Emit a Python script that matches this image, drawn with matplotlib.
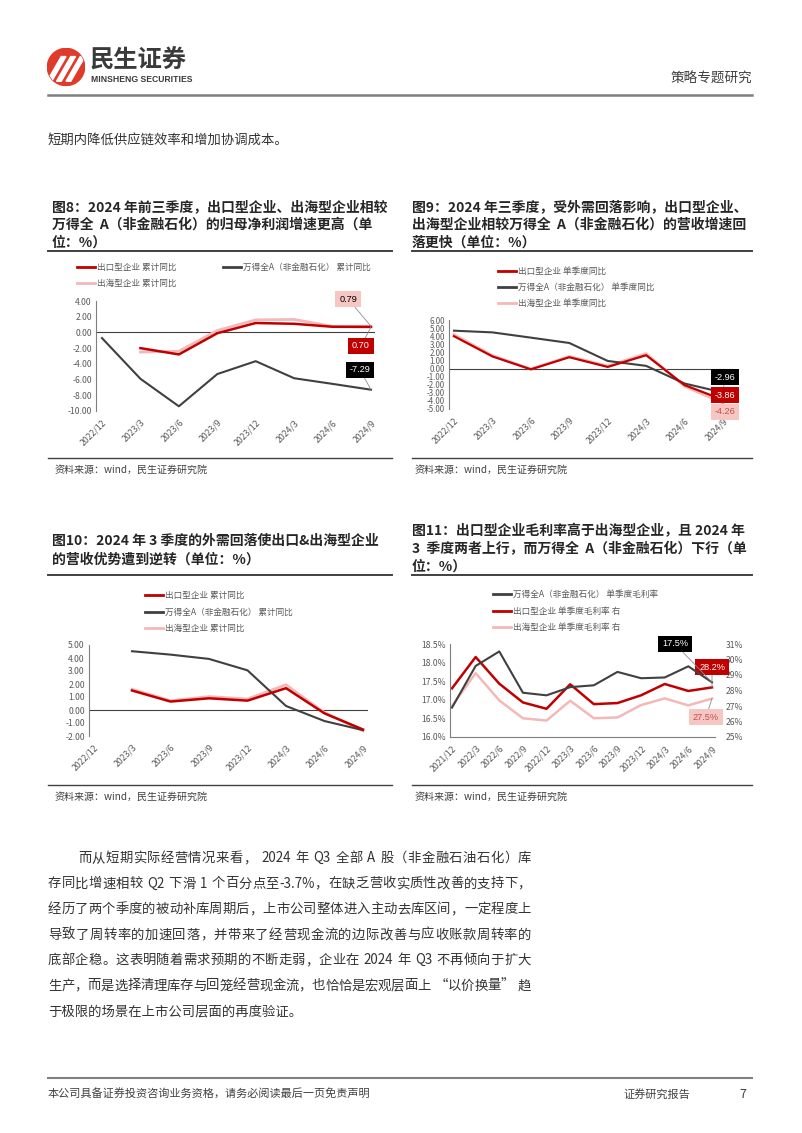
import re
import numpy as np
import matplotlib.pyplot as plt
from matplotlib.lines import Line2D
from matplotlib.patches import Circle, Polygon

plt.rcParams['font.family'] = ['Noto Sans CJK SC', 'DejaVu Sans']

W, H = 802, 1133
nan = np.nan

# 图8 归母净利润 累计同比
q8 = ['2022/12', '2023/3', '2023/6', '2023/9', '2023/12', '2024/3', '2024/6', '2024/9']
np_export = [nan, -2.0, -2.8, -0.1, 1.2, 1.1, 0.72, 0.70]
np_overseas = [nan, -2.5, -2.4, 0.25, 1.6, 1.65, 0.77, 0.79]
np_wind = [-0.72, -5.9, -9.4, -5.3, -3.66, -5.83, -6.55, -7.29]

# 图9 营收 单季度同比
q9 = q8
rq_export = [4.0, 1.5, -0.1, 1.4, 0.2, 1.65, -2.05, -3.86]
rq_overseas = [4.2, 1.6, -0.05, 1.5, 0.3, 1.85, -2.2, -4.26]
rq_wind = [4.68, 4.47, 3.82, 3.16, 0.94, 0.33, -1.85, -2.96]

# 图10 营收 累计同比
q10 = q8
rc_export = [nan, 1.5, 0.65, 0.9, 0.72, 1.68, -0.26, -1.5]
rc_overseas = [nan, 1.6, 0.72, 1.03, 0.85, 1.94, -0.2, -1.6]
rc_wind = [nan, 4.52, 4.26, 3.93, 3.05, 0.31, -0.85, -1.55]

# 图11 单季度毛利率
q11 = ['2021/12', '2022/3', '2022/6', '2022/9', '2022/12', '2023/3', '2023/6',
       '2023/9', '2023/12', '2024/3', '2024/6', '2024/9']
gm_wind = [16.79, 17.91, 18.30, 17.19, 17.12, 17.34, 17.39, 17.75, 17.58, 17.60, 17.90, 17.47]
gm_export = [28.14, 30.16, 28.44, 27.23, 26.82, 28.40, 27.12, 27.19, 27.69, 28.42, 27.97, 28.2]
gm_overseas = [27.0, 29.12, 27.36, 26.21, 26.06, 27.34, 26.21, 26.26, 27.06, 27.49, 27.04, 27.48]

body = [
    '而从短期实际经营情况来看， 2024 年 Q3 全部 A 股（非金融石油石化）库',
    '存同比增速相较 Q2 下滑 1 个百分点至-3.7%，在缺乏营收实质性改善的支持下，',
    '经历了两个季度的被动补库周期后，上市公司整体进入主动去库区间，一定程度上',
    '导致了周转率的加速回落，并带来了经营现金流的边际改善与应收账款周转率的',
    '底部企稳。这表明随着需求预期的不断走弱，企业在 2024 年 Q3 不再倾向于扩大',
    '生产，而是选择清理库存与回笼经营现金流，也恰恰是宏观层面上 “以价换量” 趋',
    '于极限的场景在上市公司层面的再度验证。',
]

RED = '#C00000'
PINK = '#F4B8B8'
DARK = '#404040'
TXT = '#595959'

fig = plt.figure(figsize=(W / 100, H / 100), dpi=100)
renderer = fig.canvas.get_renderer()


def rect(x0, y0, x1, y1):
    return [x0 / W, 1 - y1 / H, (x1 - x0) / W, (y1 - y0) / H]


def ftext(x, y, s, **kw):
    kw.setdefault('va', 'center')
    return fig.text(x / W, 1 - y / H, s, **kw)


def hline(x0, x1, y, color=DARK, lw=1.0):
    fig.add_artist(Line2D([x0 / W, x1 / W], [1 - y / H, 1 - y / H],
                          color=color, lw=lw, transform=fig.transFigure))


def justify(x0, x1, y, s, size, color):
    # 两端对齐
    toks = re.findall(r'[A-Za-z0-9.%\-]+| |.', s)
    arts = [ftext(0, y, t, fontsize=size, color=color) for t in toks]
    ws = [a.get_window_extent(renderer).width if t.strip() else size * 100 / 72 * 0.3
          for a, t in zip(arts, toks)]
    extra = (x1 - x0 - sum(ws)) / (len(toks) - 1)
    x = x0
    for a, w in zip(arts, ws):
        a.set_x(x / W)
        x += w + extra


def legend_row(x, y, color, label, lw=2.0):
    hline(x, x + 18, y, color=color, lw=lw)
    ftext(x + 20, y, label, fontsize=6.2, color=TXT)


def setup(ax, cats, ylim, yticks, fmt, xlim, zero=True):
    ax.set_xlim(*xlim)
    ax.set_ylim(*ylim)
    ax.set_yticks(yticks)
    ax.set_yticklabels([fmt.format(v) for v in yticks], fontsize=6.2, color=TXT)
    ax.set_xticks(range(len(cats)))
    ax.set_xticklabels(cats, rotation=45, ha='right', va='top',
                       rotation_mode='anchor', fontsize=6.3, color=TXT)
    for s in ['top', 'right', 'bottom']:
        ax.spines[s].set_visible(False)
    ax.spines['left'].set_color('#7f7f7f')
    ax.spines['left'].set_linewidth(0.8)
    ax.tick_params(length=0, pad=3)
    ax.tick_params(axis='x', pad=5)
    if zero:
        ax.axhline(0, color=DARK, lw=0.8, zorder=1)
    ax.patch.set_alpha(0)


def box(ax, txt, xy, pos, fc, tc):
    ax.annotate(txt, xy=xy, xytext=(pos[0], H - pos[1]), textcoords='figure pixels',
                ha='center', va='center', fontsize=6.6, color=tc, family='Liberation Sans',
                bbox=dict(boxstyle='square,pad=0.4', fc=fc, ec='none'),
                arrowprops=dict(arrowstyle='-', color='#8c8c8c', lw=0.6,
                                shrinkA=0, shrinkB=0), zorder=6)


# ---------- 页眉 ----------
lax = fig.add_axes(rect(47, 48, 85, 86))
lax.set_xlim(-1, 1)
lax.set_ylim(-1, 1)
lax.axis('off')
circ = Circle((0, 0), 0.98, color='#E03A2A')
lax.add_patch(circ)
for dx in [-0.55, -0.05, 0.45]:
    p = Polygon([[dx - 0.45, -0.75], [dx - 0.2, -0.75], [dx + 0.55, 0.55], [dx + 0.3, 0.55]],
                color='white')
    lax.add_patch(p)
    p.set_clip_path(circ)

ftext(90, 61, '民生证券', fontsize=17.5, fontweight='bold', color='#3a3a3a')
ftext(91, 80, 'MINSHENG SECURITIES', fontsize=6.2, fontweight='bold', color='#3a3a3a',
      family='Liberation Sans')
ftext(752, 79, '策略专题研究', fontsize=9.8, color='#404040', ha='right')
hline(48, 752, 95, color='#808080', lw=1.8)

ftext(48, 140, '短期内降低供应链效率和增加协调成本。', fontsize=9.6, color='#333333')

# ---------- 图表标题 ----------
tkw = dict(fontsize=10, fontweight='bold', color='#262626')
ftext(52, 207, '图8：2024 年前三季度，出口型企业、出海型企业相较', **tkw)
ftext(52, 225, '万得全  A（非金融石化）的归母净利润增速更高（单', **tkw)
ftext(52, 243, '位：%）', **tkw)
ftext(412, 207, '图9：2024 年三季度，受外需回落影响，出口型企业、', **tkw)
ftext(412, 225, '出海型企业相较万得全  A（非金融石化）的营收增速回', **tkw)
ftext(412, 243, '落更快（单位：%）', **tkw)
ftext(52, 541, '图10：2024 年 3 季度的外需回落使出口&出海型企业', **tkw)
ftext(52, 560, '的营收优势遭到逆转（单位：%）', **tkw)
ftext(412, 531, '图11：出口型企业毛利率高于出海型企业，且 2024 年', **tkw)
ftext(412, 549, '3  季度两者上行，而万得全  A（非金融石化）下行（单', **tkw)
ftext(412, 567, '位：%）', **tkw)
for y in (251, 575):
    hline(48, 392, y, lw=1.4)
    hline(412, 752, y, lw=1.4)
for y in (458, 785):
    hline(48, 392, y, lw=1.0)
    hline(412, 752, y, lw=1.0)
    ftext(55, y + 12, '资料来源：wind，民生证券研究院', fontsize=7.2, color='#404040')
    ftext(415, y + 12, '资料来源：wind，民生证券研究院', fontsize=7.2, color='#404040')

# ---------- 图8 ----------
ax8 = fig.add_axes(rect(96, 301, 375, 411))
x8 = np.arange(len(q8))
ax8.plot(x8, np_overseas, color=PINK, lw=2.0, zorder=3)
ax8.plot(x8, np_export, color=RED, lw=1.8, zorder=4)
ax8.plot(x8, np_wind, color=DARK, lw=1.5, zorder=3)
setup(ax8, q8, (-10, 4), np.arange(-10, 5, 2), '{:.2f}', (-0.156, 7.104))
box(ax8, f'{np_overseas[-1]:.2f}', (7, np_overseas[-1]), (348, 299), '#F6C6C3', '#000000')
box(ax8, f'{np_export[-1]:.2f}', (7, np_export[-1]), (361, 346), RED, 'white')
box(ax8, f'{np_wind[-1]:.2f}', (7, np_wind[-1]), (360, 370), '#000000', 'white')
legend_row(77, 267, RED, '出口型企业 累计同比')
legend_row(223, 267, DARK, '万得全A（非金融石化） 累计同比')
legend_row(77, 283, PINK, '出海型企业 累计同比')

# ---------- 图9 ----------
ax9 = fig.add_axes(rect(449, 320, 733, 409))
x9 = np.arange(len(q9))
ax9.plot(x9, rq_overseas, color=PINK, lw=2.0, zorder=3)
ax9.plot(x9, rq_export, color=RED, lw=1.6, zorder=4)
ax9.plot(x9, rq_wind, color=DARK, lw=1.5, zorder=3)
setup(ax9, q9, (-5, 6), np.arange(-5, 7, 1), '{:.2f}', (-0.13, 7.26))
ax9.tick_params(axis='y', labelsize=5.7)
box(ax9, f'{rq_wind[-1]:.2f}', (7, rq_wind[-1]), (725, 377), '#000000', 'white')
box(ax9, f'{rq_export[-1]:.2f}', (7, rq_export[-1]), (725, 395), RED, 'white')
box(ax9, f'{rq_overseas[-1]:.2f}', (7, rq_overseas[-1]), (725, 412), '#F6C6C3', '#C0504D')
legend_row(498, 271, RED, '出口型企业 单季度同比')
legend_row(498, 287, DARK, '万得全A（非金融石化） 单季度同比')
legend_row(498, 303, PINK, '出海型企业 单季度同比')

# ---------- 图10 ----------
ax10 = fig.add_axes(rect(89, 645, 368, 736))
x10 = np.arange(len(q10))
ax10.plot(x10, rc_overseas, color=PINK, lw=2.0, zorder=3)
ax10.plot(x10, rc_export, color=RED, lw=1.8, zorder=4)
ax10.plot(x10, rc_wind, color=DARK, lw=1.5, zorder=3)
setup(ax10, q10, (-2, 5), np.arange(-2, 6, 1), '{:.2f}', (-0.117, 7.13))
legend_row(145, 595, RED, '出口型企业 累计同比')
legend_row(145, 612, DARK, '万得全A（非金融石化） 累计同比')
legend_row(145, 628, PINK, '出海型企业 累计同比')

# ---------- 图11 ----------
ax11 = fig.add_axes(rect(450, 644, 715, 737))
ax11r = ax11.twinx()
x11 = np.arange(len(q11))
ax11r.plot(x11, gm_overseas, color=PINK, lw=1.8, zorder=3)
ax11r.plot(x11, gm_export, color=RED, lw=1.8, zorder=4)
ax11.plot(x11, gm_wind, color=DARK, lw=1.5, zorder=3)
setup(ax11, q11, (16, 18.5), np.arange(16, 18.51, 0.5), '{:.1f}%', (-0.085, 11.127), zero=False)
ax11.spines['bottom'].set_visible(True)
ax11.spines['bottom'].set_color('#7f7f7f')
ax11.spines['bottom'].set_linewidth(0.8)
ax11r.set_ylim(25, 31)
ax11r.set_yticks(np.arange(25, 32, 1))
ax11r.set_yticklabels([f'{v}%' for v in range(25, 32)], fontsize=6.2, color=TXT)
ax11r.tick_params(length=0, pad=8)
for s in ax11r.spines.values():
    s.set_visible(False)
ax11.set_zorder(ax11r.get_zorder() + 1)
box(ax11, f'{gm_wind[-1]:.1f}%', (11, gm_wind[-1]), (675, 644), '#000000', 'white')
box(ax11r, f'{gm_export[-1]:.1f}%', (11, gm_export[-1]), (712, 667), RED, 'white')
box(ax11r, f'{gm_overseas[-1]:.1f}%', (11, gm_overseas[-1]), (706, 717), '#F6C6C3', '#C0504D')
legend_row(493, 594, DARK, '万得全A（非金融石化） 单季度毛利率')
legend_row(493, 611, RED, '出口型企业 单季度毛利率 右')
legend_row(493, 627, PINK, '出海型企业 单季度毛利率 右')

# ---------- 正文 ----------
for i, line in enumerate(body):
    x0 = 78 if i == 0 else 48
    y = 858 + i * 25.5
    if i < len(body) - 1:
        justify(x0, 531, y, line, 9.6, '#333333')
    else:
        ftext(x0, y, line, fontsize=9.6, color='#333333')

# ---------- 页脚 ----------
hline(48, 752, 1078, color='#808080', lw=1.5)
ftext(48, 1094, '本公司具备证券投资咨询业务资格，请务必阅读最后一页免责声明', fontsize=8, color='#404040')
ftext(690, 1094, '证券研究报告', fontsize=8, color='#404040', ha='right')
ftext(746, 1094, '7', fontsize=9, color='#404040', ha='right')

fig.savefig('out.png', dpi=100)
